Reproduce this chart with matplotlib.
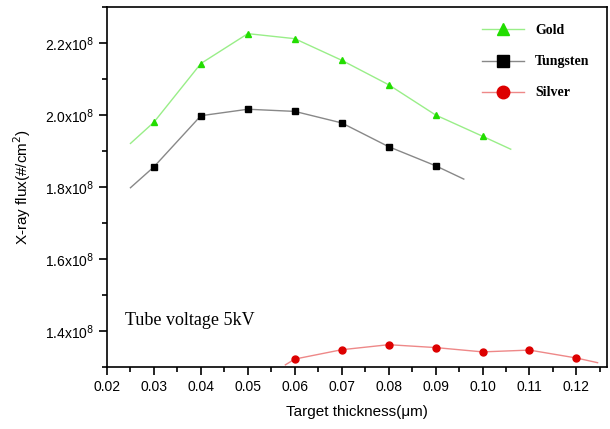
import numpy as np
import matplotlib.pyplot as plt
from matplotlib.ticker import MultipleLocator, FuncFormatter

# thickness (um) and flux values
x_gold = [0.03, 0.04, 0.05, 0.06, 0.07, 0.08, 0.09, 0.10]
y_gold = [1.980e8, 2.143e8, 2.226e8, 2.212e8, 2.152e8, 2.084e8, 2.000e8, 1.941e8]
x_tung = [0.03, 0.04, 0.05, 0.06, 0.07, 0.08, 0.09]
y_tung = [1.856e8, 1.998e8, 2.016e8, 2.010e8, 1.978e8, 1.912e8, 1.859e8]
x_silv = [0.06, 0.07, 0.08, 0.09, 0.10, 0.11, 0.12]
y_silv = [1.322e8, 1.348e8, 1.362e8, 1.354e8, 1.342e8, 1.347e8, 1.325e8]

# fitted line ends beyond the data points
gold_ends = [(0.025, 1.921e8), (0.106, 1.905e8)]
tung_ends = [(0.025, 1.798e8), (0.096, 1.822e8)]
silv_ends = [(0.058, 1.306e8), (0.1245, 1.312e8)]

fig = plt.figure(figsize=(6.1, 4.29), dpi=100)
ax = fig.add_axes([0.1754, 0.1445, 0.8196, 0.8392])

series = [
    ("Gold", x_gold, y_gold, gold_ends, "^", "#22dd00", "#99ee88"),
    ("Tungsten", x_tung, y_tung, tung_ends, "s", "black", "#888888"),
    ("Silver", x_silv, y_silv, silv_ends, "o", "#dd0000", "#ee8888"),
]
for name, xs, ys, ends, m, mc, lc in series:
    lx = [ends[0][0]] + xs + [ends[1][0]]
    ly = [ends[0][1]] + ys + [ends[1][1]]
    ax.plot(lx, ly, color=lc, lw=1)
    ax.plot(xs, ys, ls="none", marker=m, color=mc, ms=5)
    ax.plot([], [], color=lc, lw=1, marker=m, mfc=mc, mec=mc, ms=9, label=name)

ax.set_xlim(0.02, 0.1265)
ax.set_ylim(1.3e8, 2.3e8)
ax.xaxis.set_major_locator(MultipleLocator(0.01))
ax.xaxis.set_minor_locator(MultipleLocator(0.005))
ax.yaxis.set_major_locator(MultipleLocator(0.2e8))
ax.yaxis.set_minor_locator(MultipleLocator(0.1e8))
ax.xaxis.set_major_formatter(FuncFormatter(lambda v, p: f"{v:.2f}"))
ax.yaxis.set_major_formatter(FuncFormatter(lambda v, p: f"{v/1e8:.1f}x10$^{{8}}$"))
ax.tick_params(which="both", direction="out", labelsize=10)
ax.tick_params(which="major", length=6, width=1.2)
ax.tick_params(which="minor", length=3.5, width=1.2)
for lab in ax.get_xticklabels() + ax.get_yticklabels():
    lab.set_family("Liberation Sans")
for s in ax.spines.values():
    s.set_linewidth(1.2)

ax.set_xlabel("Target thickness(\u03bcm)", family="Liberation Sans", fontsize=11, labelpad=8)
ax.set_ylabel("X-ray flux(#/cm$^{2}$)", family="Liberation Sans", fontsize=11, labelpad=8)

ax.text(0.036, 0.128, "Tube voltage 5kV", transform=ax.transAxes,
        family="Liberation Serif", fontsize=13, ha="left", va="center")

ax.legend(loc="upper right", frameon=False, prop={"family": "Liberation Serif", "weight": "bold", "size": 10},
          handlelength=3.0, labelspacing=1.3, borderaxespad=0.85, handletextpad=0.8)

fig.savefig("out.png", dpi=100)
